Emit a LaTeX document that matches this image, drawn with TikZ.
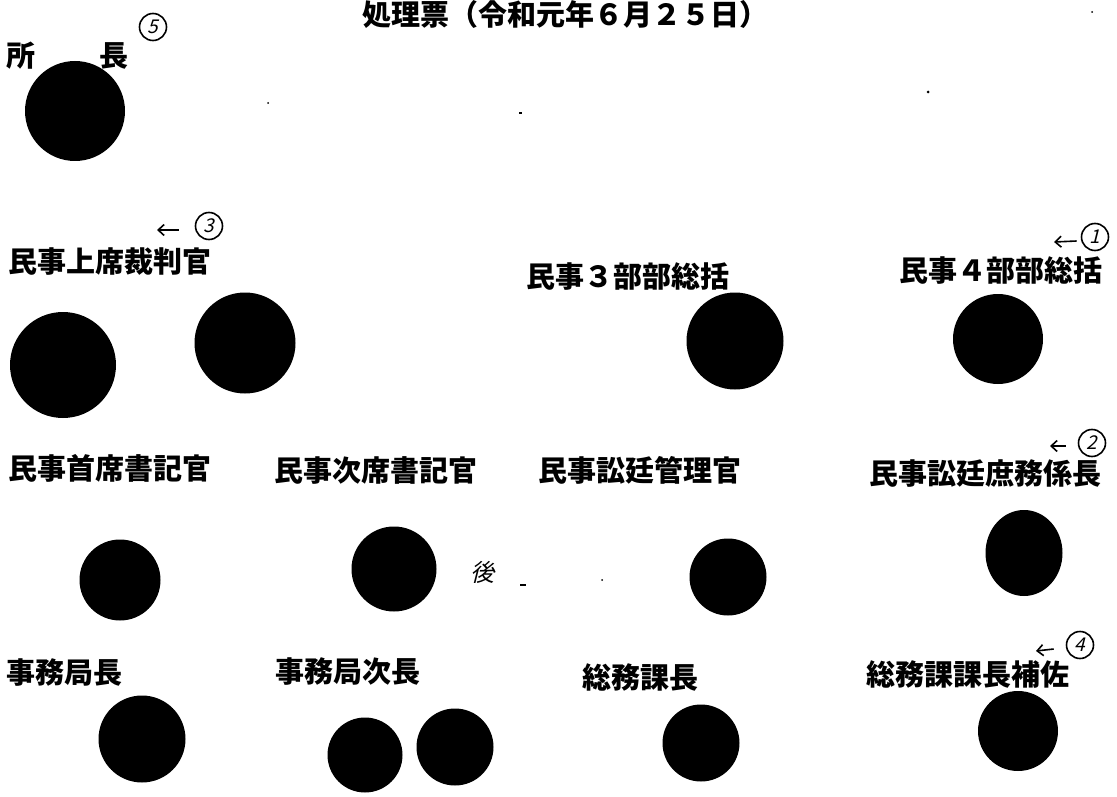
\documentclass[tikz,border=0pt]{standalone}
\usepackage{fontspec}
\newfontfamily\cjk{Noto Sans CJK JP}
\newfontfamily\hand{Noto Sans CJK JP}[FakeSlant=0.25]
\usetikzlibrary{arrows.meta,calc,shapes.geometric}
\begin{document}
\begin{tikzpicture}[x=1pt,y=-1pt,
  lbl/.style={font=\cjk\bfseries\fontsize{29}{32}\selectfont, inner sep=0pt, anchor=center},
  seal/.style={circle, fill=black, inner sep=0pt},
  num/.style={circle, draw=black, line width=1.6pt, inner sep=0pt, minimum size=27pt,
     font=\hand\fontsize{19}{20}\selectfont},
  hmark/.style={-{Straight Barb[length=6pt,width=11pt,line width=1.6pt]}, line width=1.6pt},
  speck/.style={fill=black}]
\useasboundingbox (0,0) rectangle (1117,797);
\fill[white] (0,0) rectangle (1117,797);

% title
\node[lbl] (title) at (565,14) {処理票（令和元年６月２５日）};

% row 1
\node[lbl, anchor=west] (shocho) at (6,56) {所\hspace{64pt}長};
\node[seal, minimum size=100pt] (s1) at (75,111) {};
\node[num] (n5) at (153,27) {5};

% row 2
\node[lbl] (minjijoseki) at (110,262) {民事上席裁判官};
\node[seal, minimum size=106pt] (s2a) at (63,365) {};
\node[seal, minimum size=101pt] (s2b) at (245,343) {};
\node[num] (n3) at (209,226) {3};
\coordinate (a3) at (157,230);

\node[lbl] (bu3) at (628,277) {民事３部部総括};
\node[seal, minimum size=97pt] (s3) at (735,341) {};

\node[lbl] (bu4) at (1001,271) {民事４部部総括};
\node[seal, minimum size=90pt] (s4) at (998,339) {};
\node[num] (n1) at (1095,237) {1};
\coordinate (a1) at (1054,242);

% row 3
\node[lbl] (shuseki) at (110,468) {民事首席書記官};
\node[seal, minimum size=81pt] (s5) at (120,580) {};

\node[lbl] (jiseki) at (376,470) {民事次席書記官};
\node[seal, minimum size=85pt] (s6) at (394,569) {};
\node[font=\hand\fontsize{24}{24}\selectfont, inner sep=0pt] (go) at (482,572) {後};

\node[lbl] (kanri) at (640,470) {民事訟廷管理官};
\node[seal, minimum size=77pt] (s7) at (728,577) {};

\node[lbl] (shomu) at (985,474) {民事訟廷庶務係長};
\node[ellipse, fill=black, inner sep=0pt, minimum width=77pt, minimum height=86pt] (s8) at (1024,553) {};
\node[num] (n2) at (1092,443) {2};
\coordinate (a2) at (1050,446);

% row 4
\node[lbl] (kyokucho) at (64,673) {事務局長};
\node[seal, minimum size=87pt] (s9) at (142,739) {};

\node[lbl] (jicho) at (348,672) {事務局次長};
\node[seal, minimum size=75pt] (s10a) at (365,755) {};
\node[seal, minimum size=77pt] (s10b) at (455,747) {};

\node[lbl] (kacho) at (640,677) {総務課長};
\node[seal, minimum size=77pt] (s11) at (701,743) {};

\node[lbl] (hosa) at (968,674) {総務課課長補佐};
\node[seal, minimum size=80pt] (s12) at (1018,731) {};
\node[num] (n4) at (1080,645) {4};
\coordinate (a4) at (1036,651);

% handwritten arrows
\draw[hmark] ($(n3.west)+(-16,4)$) -- (a3);
\draw[hmark] ($(n1.west)+(-4,4)$) -- (a1);
\draw[hmark] ($(n2.west)+(-12,3)$) -- (a2);
\draw[hmark] ($(n4.west)+(-12,4)$) -- (a4);

% specks
\fill[speck] (268,103) circle (1pt);
\fill[speck] (928,92) circle (1.5pt);
\fill[speck] (1092,12) circle (1pt);
\fill[speck] (519,112) rectangle (522,114);
\fill[speck] (520,584) rectangle (526,586);
\fill[speck] (602,580) circle (1pt);
\end{tikzpicture}
\end{document}
